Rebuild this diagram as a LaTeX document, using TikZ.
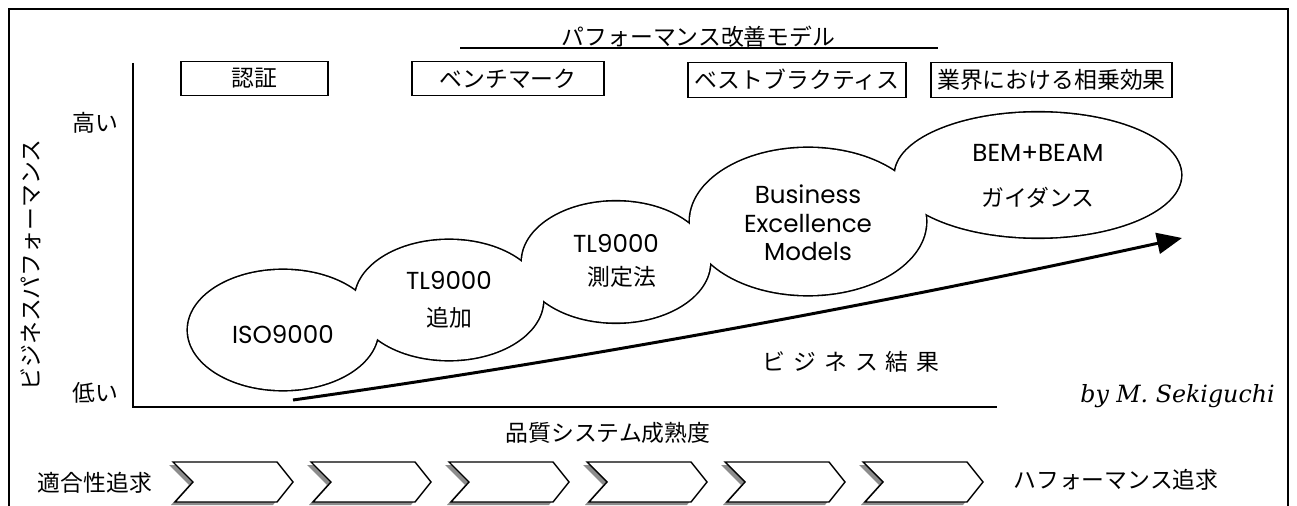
\documentclass[tikz,border=0pt]{standalone}
\usepackage{fontspec}
\newfontfamily\jpf{Noto Sans CJK JP}
\newfontfamily\geof{Poppins}
\newfontfamily\serf{DejaVu Serif}
\usetikzlibrary{shapes.geometric,arrows.meta}
\newcommand\jgap{\hspace{0.35em}}
\begin{document}
\begin{tikzpicture}[x=0.02cm,y=-0.02cm,
  jp/.style={font=\jpf\fontsize{13pt}{15pt}\selectfont, inner sep=0pt, outer sep=0pt},
  geo/.style={font=\geof\fontsize{14pt}{16.2pt}\selectfont, inner sep=0pt, outer sep=0pt, align=center},
  topbox/.style={jp, draw, line width=0.8pt, minimum height=0.69cm},
  bubble/.style={ellipse, draw, line width=1.8pt, inner sep=0pt, outer sep=0pt},
  bubblefill/.style={ellipse, fill=white, inner sep=0pt, outer sep=0pt},
  axis/.style={line width=1.1pt},
  chev/.style={line width=0.8pt, fill=white},
  chevshadow/.style={fill=black!45}
]
\useasboundingbox (0,0) rectangle (1297,506);
\fill[white] (0,0) rectangle (1297,506);
% frame
\coordinate (fbl) at (9,506);
\coordinate (ftl) at (9,9);
\coordinate (ftr) at (1288,9);
\coordinate (fbr) at (1288,506);
\draw[line width=1.2pt] (fbl) -- (ftl) -- (ftr) -- (fbr);
% title
\node[jp] (title) at (698.5,37) {パフォーマンス改善モデル};
\coordinate (ul1) at (460,48);
\coordinate (ul2) at (938,48);
\draw[line width=0.8pt] (ul1) -- (ul2);
% top boxes
\node[topbox, minimum width=2.94cm] (b1) at (254.5,78.5) {認証};
\node[topbox, minimum width=3.84cm] (b2) at (508,78.5) {ベンチマーク};
\node[topbox, minimum width=4.36cm] (b3) at (797,80) {ベストブラクティス};
\node[topbox, minimum width=4.82cm] (b4) at (1051.5,80) {業界における相乗効果};
% axes
\coordinate (ytop) at (133,63);
\coordinate (orig) at (133,407);
\coordinate (xend) at (997,407);
\draw[axis] (ytop) -- (orig) -- (xend);
\node[jp] (hi) at (95.5,123) {高い};
\node[jp] (lo) at (95,393) {低い};
\node[jp, rotate=90] (ylab) at (31,265) {ビジネスパフォーマンス};
% bubbles (union outline)
\node[bubble, minimum width=3.8cm, minimum height=2.4cm] (iso) at (283,330) {};
\node[bubble, minimum width=3.76cm, minimum height=2.4cm] (tla) at (449,300) {};
\node[bubble, minimum width=3.76cm, minimum height=2.42cm] (tlm) at (616,262) {};
\node[bubble, minimum width=4.72cm, minimum height=2.94cm] (bem) at (808,221.5) {};
\node[bubble, minimum width=5.72cm, minimum height=2.5cm] (beam) at (1038,175) {};
\node[bubblefill, minimum width=3.8cm, minimum height=2.4cm] (isof) at (iso.center) {};
\node[bubblefill, minimum width=3.76cm, minimum height=2.4cm] (tlaf) at (tla.center) {};
\node[bubblefill, minimum width=3.76cm, minimum height=2.42cm] (tlmf) at (tlm.center) {};
\node[bubblefill, minimum width=4.72cm, minimum height=2.94cm] (bemf) at (bem.center) {};
\node[bubblefill, minimum width=5.72cm, minimum height=2.5cm] (beamf) at (beam.center) {};
% bubble texts
\node[geo] (isot) at (283,335) {ISO9000};
\node[geo] (tlat) at (449,280) {TL9000};
\node[jp] (tlaj) at (449,318) {追加};
\node[geo] (tlmt) at (616,243) {TL9000};
\node[jp] (tlmj) at (622,277) {測定法};
\node[geo] (bemt) at (808,223) {Business\\Excellence\\Models};
\node[geo] (beamt) at (1038,153) {BEM+BEAM};
\node[jp] (beamj) at (1038,198) {ガイダンス};
% trend arrow
\coordinate (as) at (293,400);
\coordinate (ae) at (1182,238);
\draw[line width=1.7pt, -{Triangle[length=0.5cm,width=0.42cm]}] (as) .. controls (564,362) and (861,308) .. (ae);
\node[jp] (res) at (851,362) {ビ\jgap ジ\jgap ネ\jgap ス\jgap 結\jgap 果};
\node[font=\serf\itshape\fontsize{13.5pt}{15pt}\selectfont, inner sep=0pt, anchor=base east] (auth) at (1275,402) {by M. Sekiguchi};
\node[jp] (xlab) at (608,433) {品質システム成熟度};
% bottom row
\node[jp] (left) at (95,483) {適合性追求};
\node[jp] (right) at (1116,480) {ハフォーマンス追求};
\foreach \i in {0,...,5} {
  \coordinate (ch\i) at ({173+138*\i},462);
  \fill[chevshadow] ([shift={(-4,3)}]ch\i) -- ++(20,20) -- ++(-18,20) -- ++(102,0) -- ++(16,-20) -- ++(-16,-20) -- cycle;
  \draw[chev] (ch\i) -- ++(20,20) -- ++(-18,20) -- ++(102,0) -- ++(16,-20) -- ++(-16,-20) -- cycle;
}
\end{tikzpicture}
\end{document}
